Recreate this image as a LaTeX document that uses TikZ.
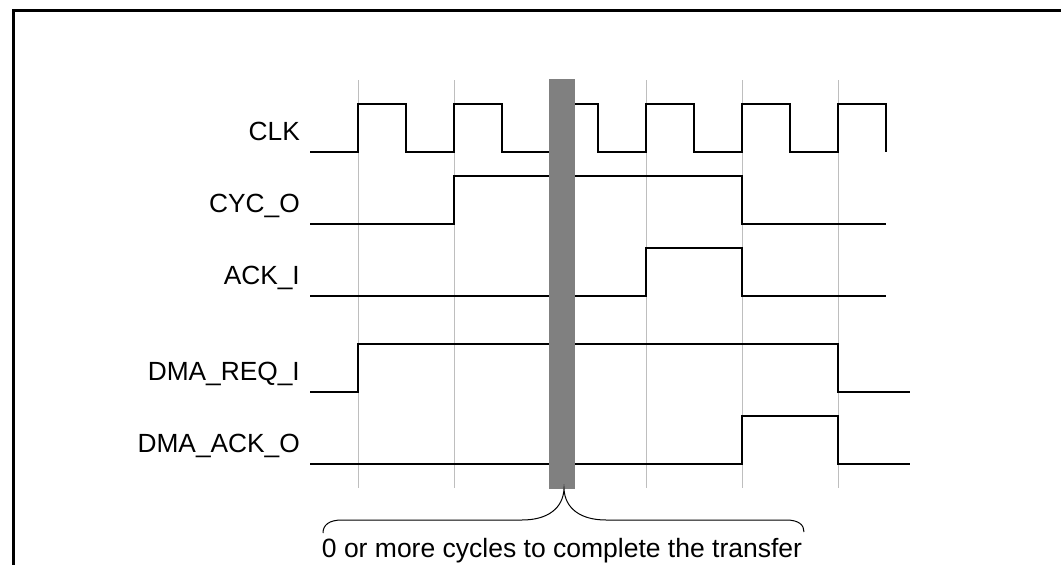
\documentclass[tikz,border=0pt]{standalone}
\usepackage{fontspec}
\setmainfont{Liberation Sans}
\definecolor{gridgray}{RGB}{190,190,190}
\definecolor{bargray}{RGB}{128,128,128}
\begin{document}
\begin{tikzpicture}[x=1pt,y=-1pt,
  sig/.style={draw=black,line width=1.3pt,line join=miter},
  grid/.style={draw=gridgray,line width=1pt},
  lbl/.style={anchor=base east,inner sep=0pt,font=\fontsize{26.3}{30}\selectfont},
  note/.style={anchor=base,inner sep=0pt,font=\fontsize{26.5}{30}\selectfont},
  frame/.style={draw=black,line width=3pt}]
\useasboundingbox (0,0) rectangle (1061,565);
\fill[white] (0,0) rectangle (1061,565);
% frame
\draw[frame] (13,565) -- (13,10) -- (1061,10);
% grid lines
\foreach \gx in {358,454,550,646,742,838} {
  \draw[grid] (\gx,80) -- (\gx,488);
}
% labels
\node[lbl] (lclk) at (300,140) {CLK};
\node[lbl] (lcyc) at (300,212) {CYC\_O};
\node[lbl] (lack) at (300,284) {ACK\_I};
\node[lbl] (lreq) at (300,380) {DMA\_REQ\_I};
\node[lbl] (ldack) at (300,452) {DMA\_ACK\_O};
% CLK
\draw[sig] (310,152) -- (358,152) -- (358,104) -- (406,104) -- (406,152) -- (454,152) -- (454,104)
  -- (502,104) -- (502,152) -- (550,152) -- (550,104) -- (598,104) -- (598,152) -- (646,152)
  -- (646,104) -- (694,104) -- (694,152) -- (742,152) -- (742,104) -- (790,104) -- (790,152)
  -- (838,152) -- (838,104) -- (886,104) -- (886,152);
% CYC_O
\draw[sig] (310,224) -- (454,224) -- (454,176) -- (742,176) -- (742,224) -- (886,224);
% ACK_I
\draw[sig] (310,296) -- (646,296) -- (646,248) -- (742,248) -- (742,296) -- (886,296);
% DMA_REQ_I
\draw[sig] (310,392) -- (358,392) -- (358,344) -- (838,344) -- (838,392) -- (910,392);
% DMA_ACK_O
\draw[sig] (310,464) -- (742,464) -- (742,416) -- (838,416) -- (838,464) -- (910,464);
% gray bar
\fill[bargray] (549,79) rectangle (575,489);
\coordinate (tip) at (564,489);
% brace
\draw[line width=1pt] (323,533) .. controls (323,525) and (329,520) .. (342,520) -- (522,520)
  .. controls (548,520) and (563,508) .. (tip)
  .. controls (565,508) and (580,520) .. (606,520) -- (786,520)
  .. controls (799,520) and (804,525) .. (804,532);
\node[note] (txt) at (562,557) {0 or more cycles to complete the transfer};
\end{tikzpicture}
\end{document}
